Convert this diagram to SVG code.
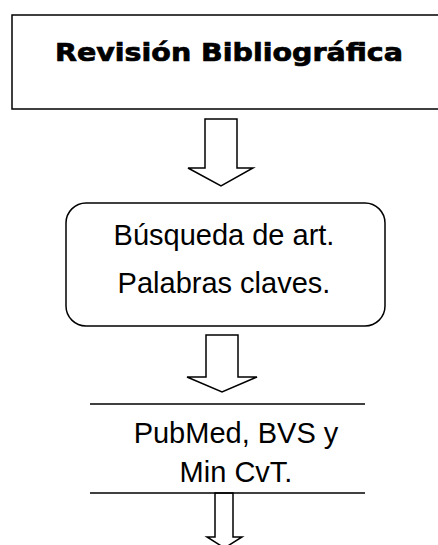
<svg xmlns="http://www.w3.org/2000/svg" width="438" height="545" viewBox="0 0 438 545">
<style>
.box{fill:#fff;stroke:#000;stroke-width:1.5}
.arrow{fill:#fff;stroke:#000;stroke-width:1.5;stroke-linejoin:miter}
.t{font-family:"Liberation Sans",Arial,sans-serif;font-size:29px;fill:#000;text-anchor:middle}
.title{font-family:"DejaVu Sans","Liberation Sans",sans-serif;font-weight:bold;font-size:25px;fill:#000;stroke:#000;stroke-width:0.7;text-anchor:middle}
</style>
<rect width="438" height="545" fill="#fff"/>
<g id="connectors">
<polygon class="arrow" points="205,119 237,119 237,168 253,168 221,186 188,168 205,168"/>
<polygon class="arrow" points="206,335 238,335 238,377 257,377 222,392 187,377 206,377"/>
<polygon class="arrow" points="215,493 233,493 233,537 242,537 224.5,548 207,537 215,537"/>
</g>
<g id="node-revision">
<rect class="box" x="12" y="15" width="440" height="94"/>
<text class="title" x="229" y="61" textLength="348" lengthAdjust="spacingAndGlyphs">Revisión Bibliográfica</text>
</g>
<g id="node-busqueda">
<rect class="box" x="66" y="203" width="319" height="123" rx="20" ry="20"/>
<text class="t" x="224" y="245">Búsqueda de art.</text>
<text class="t" x="224" y="293">Palabras claves.</text>
</g>
<g id="node-pubmed">
<line x1="90" y1="404" x2="365" y2="404" stroke="#000" stroke-width="1.5"/>
<line x1="90" y1="493" x2="365" y2="493" stroke="#000" stroke-width="1.5"/>
<text class="t" x="236" y="443">PubMed, BVS y</text>
<text class="t" x="236" y="482">Min CvT.</text>
</g>
</svg>
